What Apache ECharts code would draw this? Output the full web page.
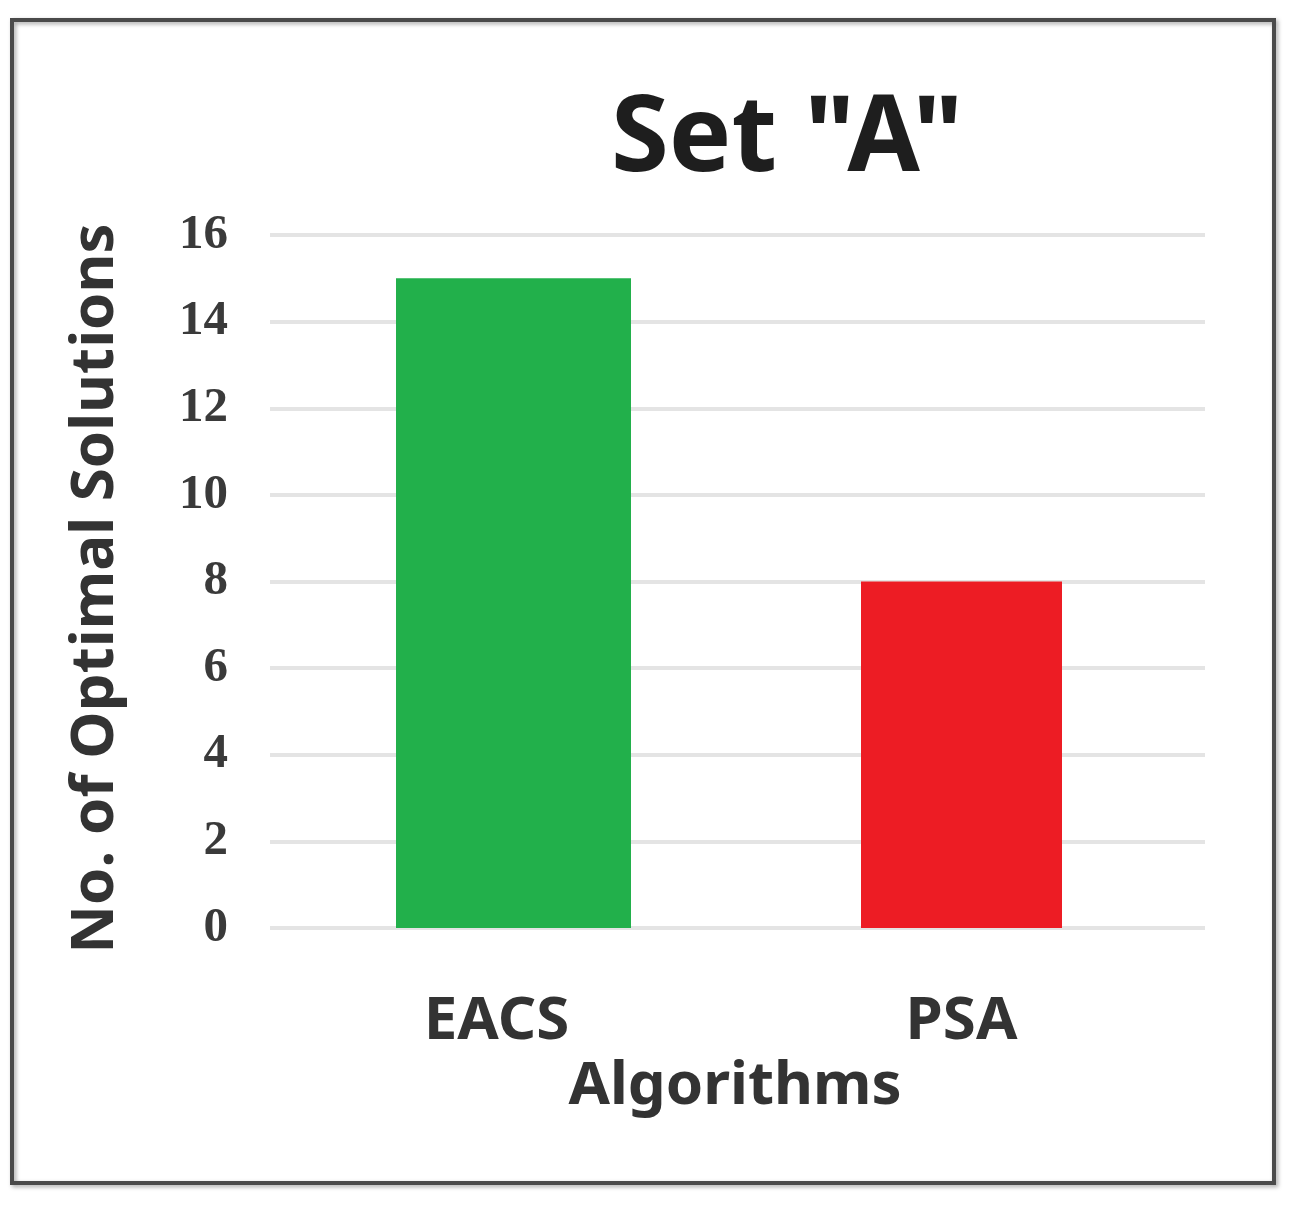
<!DOCTYPE html>
<html>
<head>
<meta charset="utf-8">
<script src="https://cdn.jsdelivr.net/npm/echarts@6/dist/echarts.min.js"></script>
<style>html,body{margin:0;padding:0;background:#fff;}#c{width:1295px;height:1218px;}</style>
</head>
<body>
<div id="c"></div>
<script>
var categories = ['EACS', 'PSA'];
var eacsValues = [15, null];
var psaValues = [null, 8];
var yTicks = [0, 2, 4, 6, 8, 10, 12, 14, 16];

var chart = echarts.init(document.getElementById('c'), null, {renderer: 'canvas'});
chart.setOption({
  backgroundColor: '#fff',
  animation: false,
  title: {
    text: 'Set "A"',
    left: 606,
    top: 84,
    textStyle: {fontFamily: 'Noto Sans', fontWeight: 'bold', fontSize: 105, color: '#1e1e1e'}
  },
  graphic: [{
    type: 'rect',
    shape: {x: 12, y: 20, width: 1262, height: 1163},
    style: {fill: 'none', stroke: '#4a4a4a', lineWidth: 4, shadowColor: 'rgba(0,0,0,0.35)', shadowBlur: 4, shadowOffsetX: 2, shadowOffsetY: 2}
  }],
  grid: [
    {left: 270, right: 90, top: 235, bottom: 290},
    {left: 264, right: 101, top: 235, bottom: 290}
  ],
  xAxis: [
    {type: 'category', gridIndex: 0, data: categories, show: false},
    {
      type: 'category',
      gridIndex: 1,
      data: categories,
      axisLine: {show: false},
      axisTick: {show: false},
      axisLabel: {margin: 64, fontFamily: 'Noto Sans', fontWeight: 'bold', fontSize: 60, color: '#333'},
      name: 'Algorithms',
      nameLocation: 'middle',
      nameGap: 126,
      nameTextStyle: {fontFamily: 'Noto Sans', fontWeight: 'bold', fontSize: 60, color: '#333', padding: [0, 0, 0, 12]}
    }
  ],
  yAxis: [
    {
      type: 'value',
      gridIndex: 0,
      min: yTicks[0],
      max: yTicks[yTicks.length - 1],
      interval: 2,
      axisLine: {show: false},
      axisTick: {show: false},
      splitLine: {lineStyle: {color: '#e4e4e4', width: 4}},
      axisLabel: {margin: 42, fontFamily: 'Liberation Serif', fontWeight: 'bold', fontSize: 49, color: '#3a3a3a'},
      name: 'No. of Optimal Solutions',
      nameLocation: 'middle',
      nameGap: 144,
      nameTextStyle: {fontFamily: 'Noto Sans', fontWeight: 'bold', fontSize: 60, color: '#333', padding: [0, 14, 0, 0]}
    },
    {
      type: 'value',
      gridIndex: 1,
      min: yTicks[0],
      max: yTicks[yTicks.length - 1],
      interval: 2,
      show: false,
      splitLine: {show: false}
    }
  ],
  series: [
    {type: 'bar', name: 'EACS', xAxisIndex: 1, yAxisIndex: 1, data: eacsValues, barWidth: 235, barGap: '-100%', itemStyle: {color: '#22B04B'}},
    {type: 'bar', name: 'PSA', xAxisIndex: 1, yAxisIndex: 1, data: psaValues, barWidth: 201, barGap: '-100%', itemStyle: {color: '#ED1C24'}}
  ]
});
</script>
</body>
</html>
